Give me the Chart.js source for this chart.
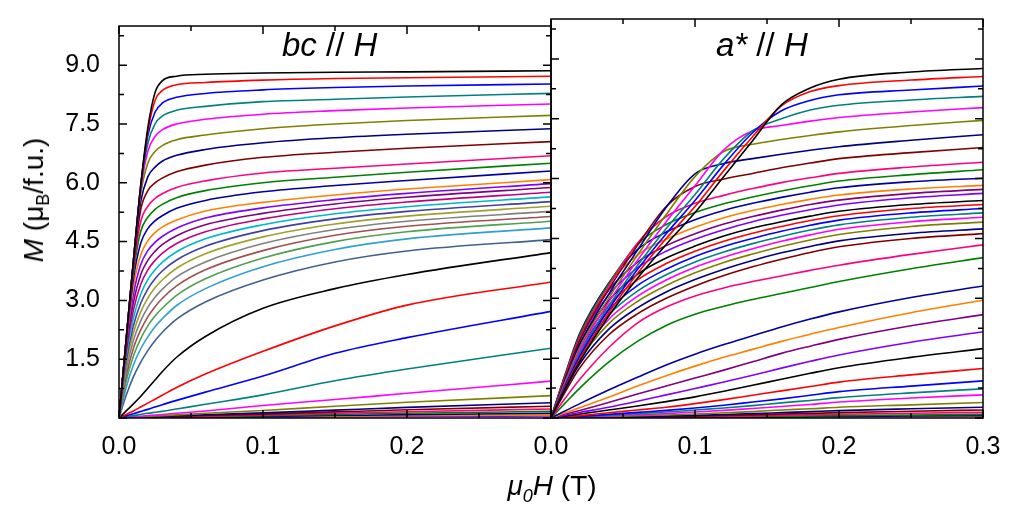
<!DOCTYPE html>
<html>
<head>
<meta charset="utf-8">
<script src="https://cdn.jsdelivr.net/npm/chart.js@4.4.1/dist/chart.umd.min.js"></script>
<style>
  body { margin: 0; background: #fff; }
  #wrap { position: relative; width: 1024px; height: 512px; overflow: hidden; font-family: 'Liberation Sans', Arial, sans-serif; color: #000; }
  #wrap canvas { position: absolute; left: 0; top: 0; }
  .lbl { position: absolute; white-space: nowrap; line-height: 1; }
  #ytitle { left: 36px; top: 200px; font-size: 28px; transform: translate(-50%, -50%) rotate(-90deg); }
  #ytitle sub { font-size: 18px; vertical-align: -6px; }
  #xtitle { left: 552px; top: 472px; font-size: 28px; transform: translateX(-50%); }
  #xtitle sub { font-size: 18px; vertical-align: -7px; font-style: italic; }
  .panel { top: 28px; font-size: 33px; }
</style>
</head>
<body>
<div id="wrap">
  <canvas id="bcChart" width="1024" height="512"></canvas>
  <canvas id="aChart" width="1024" height="512"></canvas>
  <div id="ytitle" class="lbl"><i>M</i> (μ<sub>B</sub>/f.u.)</div>
  <div id="xtitle" class="lbl"><i>μ</i><sub>0</sub><i>H</i> (T)</div>
  <div class="lbl panel" style="left:282px"><i>bc</i> // <i>H</i></div>
  <div class="lbl panel" style="left:716px"><i>a*</i> // <i>H</i></div>
</div>
<script>
// axis ticks
const fieldTicks = [0, 0.1, 0.2, 0.3];
const fieldMinor = [0.05, 0.15, 0.25];
const momentTicks = [0, 1.5, 3, 4.5, 6, 7.5, 9];
const momentMinor = [0.75, 2.25, 3.75, 5.25, 6.75, 8.25, 9.75];

// bc // H panel: field points (T) and M (muB/f.u.)
const bcField = [0, 0.005, 0.01, 0.015, 0.02, 0.025, 0.03, 0.04, 0.06, 0.1, 0.15, 0.2, 0.3];
const bcMoments = [
  [0, 2.0, 4.0, 5.9, 7.4, 8.3, 8.6, 8.72, 8.77, 8.8, 8.82, 8.83, 8.86],
  [0, 2.0, 4.0, 5.9, 7.3, 8.1, 8.35, 8.5, 8.56, 8.62, 8.66, 8.68, 8.72],
  [0, 2.0, 4.0, 5.9, 7.2, 7.8, 8.03, 8.18, 8.28, 8.37, 8.43, 8.47, 8.52],
  [0, 2.0, 4.0, 5.85, 7.0, 7.5, 7.7, 7.85, 7.95, 8.07, 8.13, 8.19, 8.28],
  [0, 2.0, 4.0, 5.8, 6.8, 7.18, 7.35, 7.5, 7.62, 7.75, 7.84, 7.91, 8.01],
  [0, 2.0, 4.0, 5.7, 6.5, 6.8, 6.95, 7.1, 7.22, 7.38, 7.5, 7.59, 7.72],
  [0, 2.0, 3.95, 5.5, 6.15, 6.4, 6.55, 6.7, 6.85, 7.02, 7.15, 7.24, 7.38],
  [0, 2.0, 3.9, 5.3, 5.8, 6.0, 6.12, 6.28, 6.45, 6.65, 6.78, 6.88, 7.05],
  [0, 2.0, 3.8, 5.0, 5.4, 5.6, 5.72, 5.88, 6.05, 6.25, 6.37, 6.48, 6.69],
  [0, 1.95, 3.7, 4.75, 5.12, 5.32, 5.45, 5.62, 5.8, 6.0, 6.14, 6.27, 6.5],
  [0, 1.95, 3.55, 4.45, 4.83, 5.03, 5.16, 5.35, 5.55, 5.77, 5.93, 6.06, 6.3],
  [0, 1.9, 3.35, 4.15, 4.52, 4.73, 4.87, 5.05, 5.28, 5.5, 5.69, 5.84, 6.08],
  [0, 1.85, 3.15, 3.9, 4.27, 4.48, 4.63, 4.84, 5.1, 5.36, 5.57, 5.73, 5.98],
  [0, 1.78, 2.95, 3.65, 4.02, 4.25, 4.42, 4.65, 4.93, 5.22, 5.46, 5.63, 5.88],
  [0, 1.68, 2.75, 3.4, 3.78, 4.02, 4.2, 4.45, 4.75, 5.08, 5.34, 5.51, 5.76],
  [0, 1.57, 2.55, 3.15, 3.53, 3.78, 3.97, 4.24, 4.57, 4.93, 5.21, 5.39, 5.64],
  [0, 1.46, 2.35, 2.92, 3.29, 3.55, 3.75, 4.03, 4.38, 4.78, 5.08, 5.27, 5.52],
  [0, 1.35, 2.17, 2.7, 3.06, 3.32, 3.52, 3.82, 4.19, 4.62, 4.95, 5.15, 5.4],
  [0, 1.22, 1.98, 2.47, 2.82, 3.08, 3.28, 3.6, 3.98, 4.45, 4.81, 5.02, 5.27],
  [0, 1.08, 1.78, 2.24, 2.58, 2.84, 3.05, 3.37, 3.78, 4.27, 4.66, 4.89, 5.14],
  [0, 0.94, 1.58, 2.02, 2.35, 2.6, 2.8, 3.13, 3.55, 4.08, 4.5, 4.75, 5.02],
  [0, 0.78, 1.35, 1.76, 2.07, 2.33, 2.53, 2.87, 3.3, 3.86, 4.3, 4.57, 4.85],
  [0, 0.58, 1.05, 1.42, 1.72, 1.97, 2.18, 2.52, 2.96, 3.52, 3.98, 4.26, 4.55],
  [0, 0.18, 0.36, 0.55, 0.76, 0.97, 1.18, 1.55, 2.08, 2.8, 3.3, 3.66, 4.22],
  [0, 0.09, 0.18, 0.28, 0.38, 0.48, 0.58, 0.78, 1.12, 1.7, 2.35, 2.88, 3.47],
  [0, 0.055, 0.11, 0.165, 0.22, 0.28, 0.34, 0.45, 0.66, 1.07, 1.65, 2.05, 2.72],
  [0, 0.03, 0.06, 0.09, 0.12, 0.145, 0.17, 0.23, 0.35, 0.59, 0.95, 1.25, 1.78],
  [0, 0.015, 0.03, 0.045, 0.06, 0.075, 0.09, 0.12, 0.18, 0.32, 0.47, 0.63, 0.94],
  [0, 0.01, 0.02, 0.03, 0.04, 0.05, 0.06, 0.08, 0.12, 0.19, 0.3, 0.4, 0.57],
  [0, 0.007, 0.014, 0.021, 0.028, 0.035, 0.042, 0.056, 0.083, 0.13, 0.2, 0.27, 0.39],
  [0, 0.005, 0.01, 0.016, 0.021, 0.026, 0.031, 0.042, 0.063, 0.1, 0.155, 0.21, 0.3],
  [0, 0.004, 0.008, 0.012, 0.016, 0.02, 0.024, 0.032, 0.048, 0.08, 0.12, 0.16, 0.23],
  [0, 0.003, 0.006, 0.009, 0.012, 0.015, 0.018, 0.024, 0.036, 0.06, 0.09, 0.12, 0.17],
  [0, 0.002, 0.004, 0.006, 0.008, 0.01, 0.012, 0.016, 0.024, 0.042, 0.063, 0.085, 0.12],
  [0, 0.0015, 0.003, 0.0045, 0.006, 0.0075, 0.009, 0.012, 0.018, 0.03, 0.045, 0.06, 0.08],
  [0, 0.001, 0.002, 0.003, 0.004, 0.005, 0.006, 0.008, 0.012, 0.02, 0.03, 0.04, 0.05]
];
const bcColors = ['#000000', '#ff0000', '#0000ff', '#008080', '#ff00ff', '#808000', '#000080',
  '#800000', '#ff0080', '#008000', '#0000a0', '#ff8000', '#8000ff', '#800080', '#c00080',
  '#00b8c8', '#4040a0', '#a0a030', '#808080', '#a05050', '#50a050', '#30a0d0', '#406090'];

// a* // H panel
const aField = [0, 0.01, 0.02, 0.04, 0.06, 0.08, 0.1, 0.12, 0.14, 0.16, 0.18, 0.2, 0.25, 0.3];
const aMoments = [
  [0, 0.75, 1.42, 2.55, 3.5, 4.35, 5.15, 6.05, 6.95, 7.85, 8.27, 8.49, 8.67, 8.76],
  [0, 0.78, 1.48, 2.63, 3.62, 4.5, 5.3, 6.2, 7.05, 7.82, 8.18, 8.33, 8.47, 8.56],
  [0, 0.82, 1.55, 2.72, 3.72, 4.62, 5.45, 6.35, 7.15, 7.7, 7.96, 8.1, 8.22, 8.32],
  [0, 0.85, 1.62, 2.8, 3.82, 4.75, 5.6, 6.5, 7.2, 7.5, 7.72, 7.84, 7.97, 8.06],
  [0, 0.88, 1.7, 2.9, 3.95, 4.92, 5.82, 6.72, 7.2, 7.33, 7.44, 7.53, 7.67, 7.78],
  [0, 0.92, 1.77, 3.0, 4.08, 5.1, 6.05, 6.68, 6.86, 6.98, 7.08, 7.17, 7.33, 7.46],
  [0, 0.96, 1.85, 3.1, 4.2, 5.28, 6.12, 6.38, 6.5, 6.61, 6.71, 6.8, 6.96, 7.1],
  [0, 1.0, 1.95, 3.22, 4.32, 5.3, 5.8, 5.99, 6.13, 6.27, 6.39, 6.5, 6.65, 6.78],
  [0, 1.05, 2.02, 3.3, 4.38, 5.05, 5.38, 5.58, 5.75, 5.9, 6.02, 6.13, 6.29, 6.41],
  [0, 1.08, 2.08, 3.36, 4.35, 4.85, 5.15, 5.37, 5.54, 5.69, 5.82, 5.94, 6.1, 6.22],
  [0, 1.1, 2.12, 3.38, 4.22, 4.66, 4.97, 5.2, 5.38, 5.53, 5.66, 5.77, 5.92, 6.01],
  [0, 1.12, 2.12, 3.35, 4.08, 4.48, 4.78, 5.02, 5.2, 5.35, 5.48, 5.59, 5.74, 5.83],
  [0, 1.08, 2.02, 3.2, 3.9, 4.32, 4.62, 4.86, 5.05, 5.21, 5.35, 5.46, 5.63, 5.73],
  [0, 1.04, 1.95, 3.08, 3.76, 4.18, 4.48, 4.72, 4.92, 5.08, 5.22, 5.34, 5.52, 5.63],
  [0, 1.0, 1.86, 2.94, 3.6, 4.01, 4.31, 4.56, 4.76, 4.92, 5.06, 5.18, 5.35, 5.45],
  [0, 0.95, 1.78, 2.82, 3.46, 3.87, 4.18, 4.43, 4.63, 4.8, 4.95, 5.07, 5.25, 5.35],
  [0, 0.9, 1.7, 2.7, 3.32, 3.73, 4.05, 4.3, 4.5, 4.68, 4.83, 4.96, 5.14, 5.25],
  [0, 0.86, 1.62, 2.58, 3.18, 3.59, 3.91, 4.16, 4.37, 4.55, 4.71, 4.84, 5.03, 5.14],
  [0, 0.82, 1.54, 2.47, 3.05, 3.46, 3.78, 4.03, 4.24, 4.43, 4.59, 4.73, 4.92, 5.03],
  [0, 0.78, 1.46, 2.36, 2.92, 3.32, 3.64, 3.9, 4.11, 4.3, 4.46, 4.6, 4.8, 4.91],
  [0, 0.72, 1.36, 2.22, 2.76, 3.16, 3.47, 3.73, 3.95, 4.14, 4.3, 4.44, 4.63, 4.74],
  [0, 0.66, 1.26, 2.08, 2.61, 3.0, 3.31, 3.57, 3.79, 3.98, 4.15, 4.29, 4.5, 4.62],
  [0, 0.5, 0.97, 1.76, 2.38, 2.78, 3.06, 3.26, 3.42, 3.56, 3.7, 3.83, 4.1, 4.34],
  [0, 0.38, 0.75, 1.4, 1.92, 2.32, 2.6, 2.8, 2.97, 3.12, 3.27, 3.42, 3.74, 4.02],
  [0, 0.18, 0.36, 0.7, 1.02, 1.33, 1.6, 1.84, 2.06, 2.28, 2.48, 2.66, 3.02, 3.31],
  [0, 0.13, 0.26, 0.52, 0.8, 1.06, 1.3, 1.52, 1.72, 1.92, 2.1, 2.27, 2.64, 2.95],
  [0, 0.1, 0.19, 0.39, 0.6, 0.8, 1.0, 1.2, 1.41, 1.62, 1.8, 1.97, 2.31, 2.59],
  [0, 0.07, 0.14, 0.27, 0.42, 0.58, 0.74, 0.9, 1.07, 1.25, 1.42, 1.58, 1.9, 2.16],
  [0, 0.05, 0.1, 0.2, 0.3, 0.41, 0.53, 0.67, 0.82, 0.97, 1.12, 1.26, 1.52, 1.74],
  [0, 0.03, 0.06, 0.13, 0.2, 0.27, 0.36, 0.46, 0.57, 0.68, 0.79, 0.9, 1.08, 1.24],
  [0, 0.02, 0.04, 0.09, 0.14, 0.19, 0.25, 0.32, 0.4, 0.48, 0.57, 0.66, 0.8, 0.93],
  [0, 0.015, 0.03, 0.07, 0.11, 0.15, 0.2, 0.25, 0.31, 0.38, 0.44, 0.51, 0.63, 0.73],
  [0, 0.012, 0.024, 0.05, 0.08, 0.11, 0.15, 0.19, 0.24, 0.29, 0.34, 0.4, 0.5, 0.58],
  [0, 0.008, 0.016, 0.035, 0.055, 0.075, 0.1, 0.13, 0.16, 0.2, 0.23, 0.27, 0.33, 0.39],
  [0, 0.006, 0.012, 0.024, 0.037, 0.05, 0.067, 0.087, 0.11, 0.135, 0.16, 0.185, 0.23, 0.27],
  [0, 0.004, 0.008, 0.017, 0.027, 0.037, 0.048, 0.062, 0.078, 0.096, 0.115, 0.135, 0.17, 0.2],
  [0, 0.003, 0.006, 0.012, 0.019, 0.026, 0.034, 0.043, 0.054, 0.067, 0.08, 0.094, 0.12, 0.14],
  [0, 0.002, 0.004, 0.008, 0.012, 0.017, 0.022, 0.028, 0.035, 0.043, 0.052, 0.06, 0.077, 0.09],
  [0, 0.001, 0.003, 0.005, 0.008, 0.011, 0.015, 0.019, 0.023, 0.028, 0.034, 0.04, 0.05, 0.06],
  [0, 0.001, 0.002, 0.004, 0.006, 0.008, 0.01, 0.013, 0.016, 0.02, 0.024, 0.028, 0.034, 0.04]
];
const aColors = ['#000000', '#ff0000', '#0000ff', '#008080', '#ff00ff', '#808000', '#000080',
  '#800000', '#ff0080', '#008000', '#0000a0', '#ff8000', '#800080', '#8000ff'];

const FONT = "'Liberation Sans', Arial, sans-serif";

/**
 * Turn one panel's curves into line datasets
 */
function buildSets(field, curves, colors) {
  return curves.map((m, i) => ({
    data: field.map((h, k) => ({ x: h, y: m[k] })),
    borderColor: colors[i % colors.length],
    borderWidth: 1.6,
    pointRadius: 0,
    fill: false,
    cubicInterpolationMode: 'monotone'
  }));
}

/**
 * Frame and inward ticks on all four sides (Origin style)
 */
const frameTicks = {
  id: 'frameTicks',
  afterDatasetsDraw(chart) {
    const { ctx, chartArea: a, scales: { x, y } } = chart;
    ctx.save();
    ctx.strokeStyle = '#000';
    ctx.lineWidth = 1.5;
    ctx.beginPath();
    const xMark = (v, len) => {
      const px = x.getPixelForValue(v);
      ctx.moveTo(px, a.bottom); ctx.lineTo(px, a.bottom - len);
      ctx.moveTo(px, a.top); ctx.lineTo(px, a.top + len);
    };
    const yMark = (v, len) => {
      const py = y.getPixelForValue(v);
      ctx.moveTo(a.left, py); ctx.lineTo(a.left + len, py);
      ctx.moveTo(a.right, py); ctx.lineTo(a.right - len, py);
    };
    fieldTicks.forEach(v => xMark(v, 8));
    fieldMinor.forEach(v => xMark(v, 5));
    momentTicks.forEach(v => yMark(v, 8));
    momentMinor.forEach(v => yMark(v, 5));
    ctx.stroke();
    ctx.strokeRect(a.left, a.top, a.right - a.left, a.bottom - a.top);
    ctx.restore();
  }
};

function makeChart(id, field, curves, colors, opts) {
  new Chart(document.getElementById(id), {
    type: 'line',
    data: { datasets: buildSets(field, curves, colors) },
    options: {
      responsive: false,
      animation: false,
      events: [],
      layout: { padding: opts.padding },
      plugins: { legend: { display: false }, tooltip: { enabled: false } },
      scales: {
        x: {
          type: 'linear',
          min: 0,
          max: 0.3,
          grid: { display: false },
          border: { display: false },
          afterBuildTicks: s => { s.ticks = fieldTicks.map(v => ({ value: v })); },
          afterFit: s => { s.height = 94; },
          ticks: {
            autoSkip: false,
            maxRotation: 0,
            padding: 6,
            color: '#000',
            font: { family: FONT, size: 25 },
            callback: opts.xLabel
          }
        },
        y: {
          type: 'linear',
          min: 0,
          max: 10,
          display: opts.yWidth > 0,
          grid: { display: false },
          border: { display: false },
          afterBuildTicks: s => { s.ticks = momentTicks.map(v => ({ value: v })); },
          afterFit: s => { s.width = opts.yWidth; },
          ticks: {
            padding: 11,
            color: '#000',
            font: { family: FONT, size: 25 },
            callback: v => (v === 0 ? '' : v.toFixed(1))
          }
        }
      }
    },
    plugins: [frameTicks]
  });
}

makeChart('bcChart', bcField, bcMoments, bcColors, {
  padding: { left: 0, right: 473, top: 19, bottom: 0 },
  yWidth: 119,
  xLabel: v => (v > 0.25 ? '' : v.toFixed(1))
});

makeChart('aChart', aField, aMoments, aColors, {
  padding: { left: 551, right: 41, top: 19, bottom: 0 },
  yWidth: 0,
  xLabel: v => v.toFixed(1)
});
</script>
</body>
</html>
